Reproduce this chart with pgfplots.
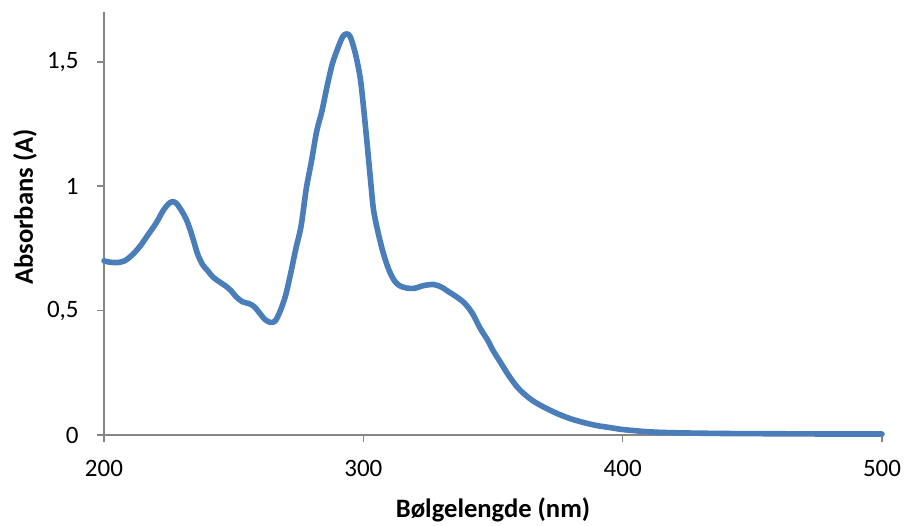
\documentclass[border=0pt]{standalone}
\usepackage{fontspec}
\setmainfont{Carlito}
\usepackage{pgfplots}
\pgfplotsset{compat=1.18}
\definecolor{lineblue}{RGB}{74,126,187}
\definecolor{axgray}{RGB}{134,134,134}
\begin{document}
\fontsize{12.5pt}{15pt}\selectfont
\begin{tikzpicture}
\begin{axis}[
  at={(0,0)}, anchor=south west,
  scale only axis,
  width=389pt, height=211.5pt,
  xmin=200, xmax=500, ymin=0, ymax=1.7,
  axis x line*=bottom, axis y line*=left,
  axis line style={axgray, line width=0.8pt},
  xtick={200,300,400,500},
  ytick={0,0.5,1,1.5},
  tick align=outside,
  major tick length=3.5pt,
  tick style={axgray, line width=0.8pt},
  /pgf/number format/assume math mode=true,
  /pgf/number format/use comma,
  xticklabel style={inner sep=0pt, anchor=north},
  yticklabel style={inner sep=0pt, anchor=east},
  xticklabel shift=9pt,
  yticklabel shift=9pt,
  xlabel={\fontsize{13.3pt}{16pt}\selectfont\textbf{Bølgelengde (nm)}},
  ylabel={\fontsize{13.3pt}{16pt}\selectfont\textbf{Absorbans (A)}},
  xlabel style={at={(rel axis cs:0.5,0)}, anchor=base, yshift=-41pt},
  ylabel style={at={(rel axis cs:0,0.539)}, anchor=center, yshift=39.5pt},
  clip=false,
]
\addplot[lineblue, line width=2.8pt, smooth, line join=round, line cap=round] coordinates {
(200,0.700) (202,0.695) (205,0.693) (208,0.700) (211,0.725) (214,0.760)
(217,0.805) (220,0.850) (223,0.905) (225,0.930) (226.5,0.938) (228,0.930)
(230,0.900) (232,0.860) (234,0.800) (236,0.730) (238,0.685) (240,0.660)
(242,0.635) (245,0.612) (247,0.598) (249,0.580) (251,0.555) (253.5,0.535)
(256,0.528) (258,0.515) (260,0.490) (262,0.465) (264,0.453) (266,0.458)
(268,0.500) (270,0.560) (272,0.650) (274,0.750) (276,0.840) (278,0.990)
(280,1.100) (282,1.220) (284,1.300) (286,1.400) (288,1.490) (290,1.550)
(292,1.600) (293.5,1.612) (295,1.600) (297,1.530) (299,1.420) (301,1.220)
(303,1.000) (304,0.900) (306,0.800) (308,0.720) (310,0.660) (312,0.620)
(314,0.600) (317,0.590) (320,0.590) (323,0.600) (327,0.605) (330,0.595)
(333,0.575) (336,0.555) (339,0.530) (342,0.490) (345,0.430) (348,0.380)
(350,0.340) (353,0.290) (356,0.240) (360,0.185) (365,0.140) (370,0.110)
(375,0.085) (380,0.065) (385,0.050) (390,0.038) (395,0.030) (400,0.022)
(410,0.013) (420,0.009) (440,0.006) (460,0.005) (480,0.004) (500,0.004)
};
\end{axis}
\pgfresetboundingbox
\path (-52pt,-45pt) rectangle (400pt,217.5pt);
\end{tikzpicture}
\end{document}
